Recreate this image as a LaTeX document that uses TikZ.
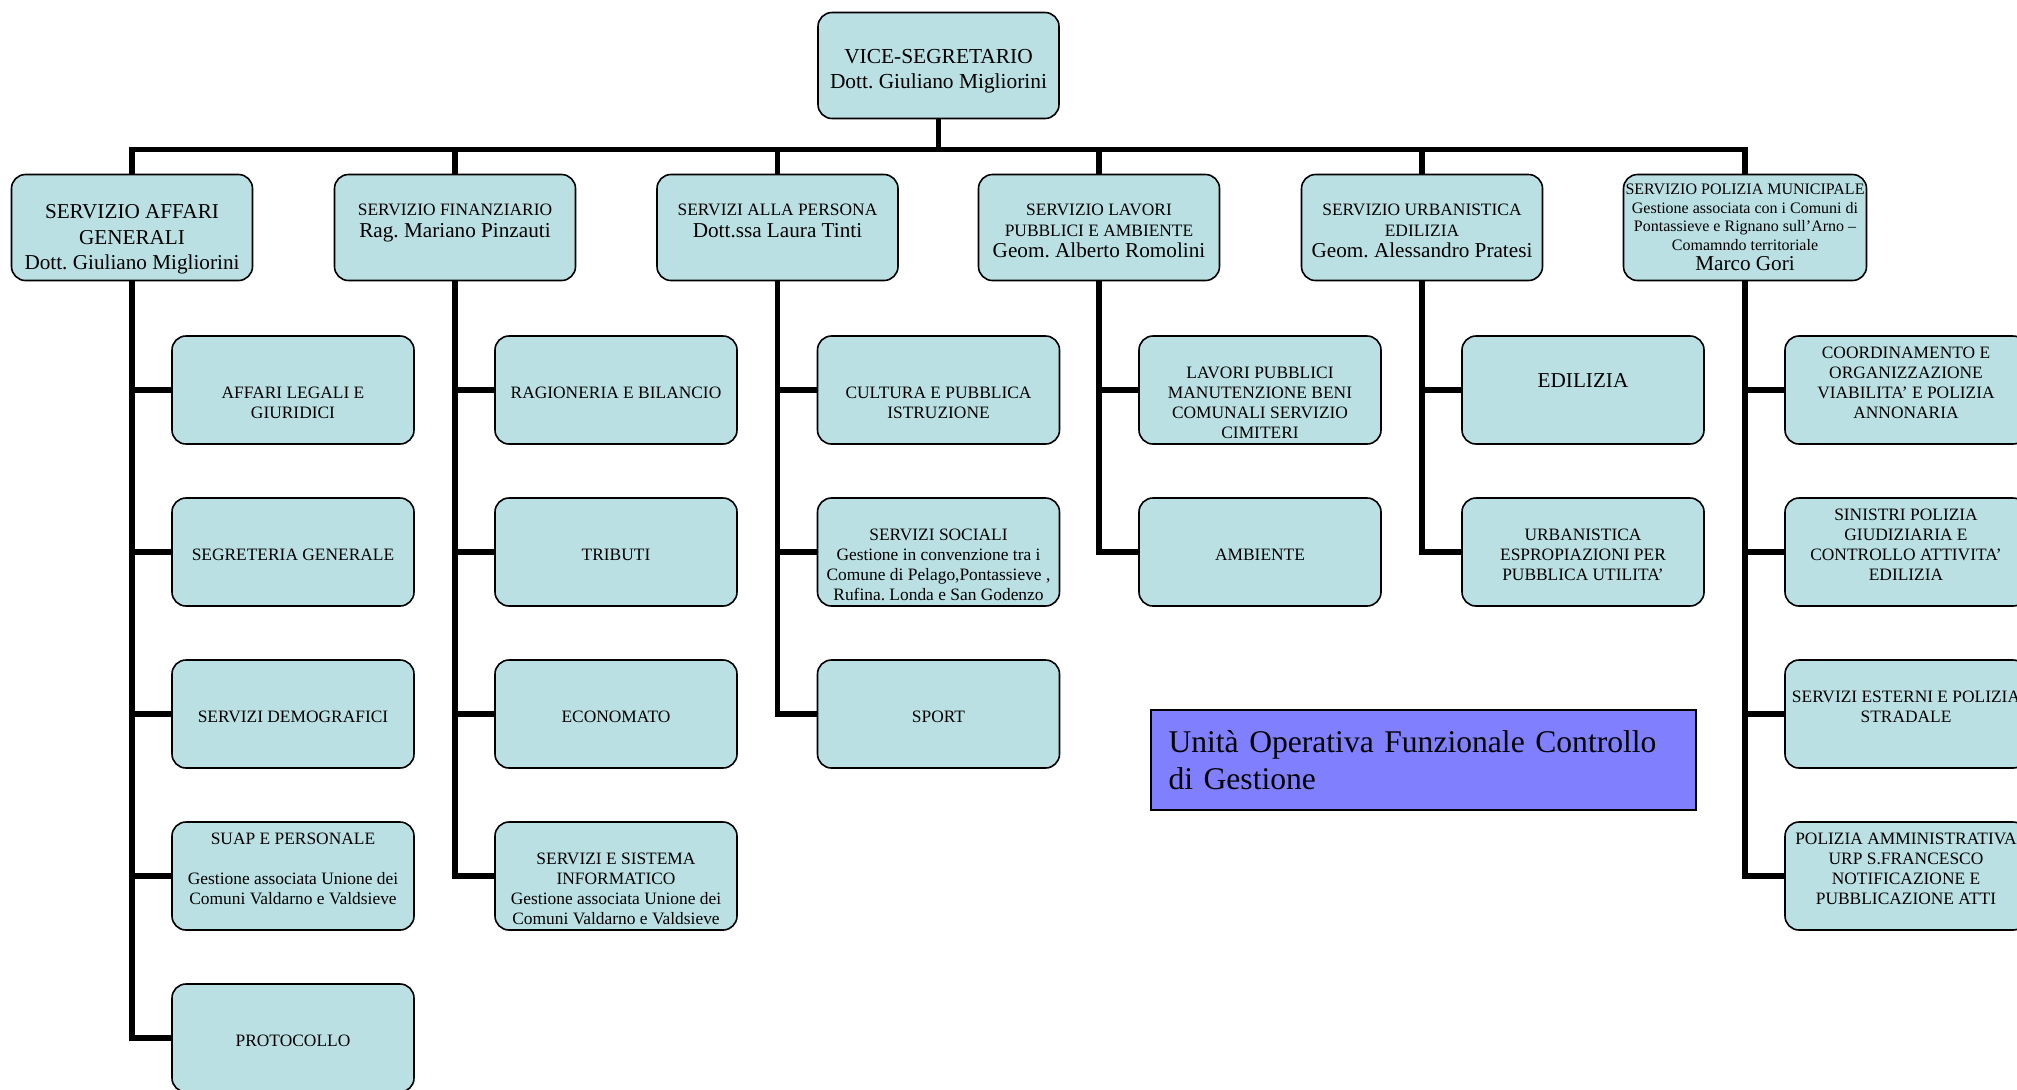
\documentclass[tikz,border=0pt]{standalone}
\usepackage{fontspec}
\setmainfont{Liberation Serif}
\definecolor{boxfill}{RGB}{187,224,227}
\definecolor{unitfill}{RGB}{128,128,255}
\newcommand{\bigline}[1]{{\fontsize{10.6}{12}\selectfont #1}}
\newcommand{\rowtop}[1][9pt]{\rule{0pt}{#1}}
\begin{document}
\frenchspacing
\begin{tikzpicture}[x=0.5pt,y=-0.5pt]
\tikzset{office/.style = {draw, rounded corners=7pt, fill=boxfill, line width=0.8pt, minimum width=121pt, minimum height=54pt, inner sep=1pt, align=center, font=\fontsize{8.7}{10}\selectfont},
  head/.style = {office, minimum width=120.5pt, minimum height=53pt, font=\fontsize{8.7}{11}\selectfont},
  link/.style = {line width=2.8pt}}
\clip (0,0) rectangle (2017,1089);
% vertice
\node[head,font=\fontsize{10.7}{12.5}\selectfont] (vs) at (938.5,65.5) {\rowtop[12.8pt]VICE-SEGRETARIO\\Dott. Giuliano Migliorini};
% servizi
\node[head,font=\fontsize{10.6}{12.9}\selectfont] (a) at (132,227.5) {\strut\\[-3pt]SERVIZIO AFFARI\\GENERALI\\Dott. Giuliano Migliorini};
\node[head] (b) at (455,227.5) {SERVIZIO FINANZIARIO\\\bigline{Rag. Mariano Pinzauti}\\[-8pt]\strut};
\node[head] (c) at (777.5,227.5) {SERVIZI ALLA PERSONA\\\bigline{Dott.ssa Laura Tinti}\\[-8pt]\strut};
\node[head,font=\fontsize{8.7}{10.5}\selectfont] (d) at (1099,227.5) {\rowtop SERVIZIO LAVORI\\PUBBLICI E AMBIENTE\\\bigline{Geom. Alberto Romolini}};
\node[head,font=\fontsize{8.7}{10.5}\selectfont] (e) at (1422,227.5) {\rowtop SERVIZIO URBANISTICA\\EDILIZIA\\\bigline{Geom. Alessandro Pratesi}};
\node[head,font=\fontsize{8}{9.3}\selectfont] (f) at (1745,227.5) {SERVIZIO POLIZIA MUNICIPALE\\Gestione associata con i Comuni di\\Pontassieve e Rignano sull’Arno –\\Comamndo territoriale\\[1pt]\bigline{Marco Gori}};
% affari generali
\node[office] (a1) at (293,390) {\rowtop\strut\\AFFARI LEGALI E\\GIURIDICI};
\node[office] (a2) at (293,552) {\rowtop SEGRETERIA GENERALE};
\node[office] (a3) at (293,714) {\rowtop SERVIZI DEMOGRAFICI};
\node[office] (a4) at (293,876) {\rowtop SUAP E PERSONALE\\[10pt]Gestione associata Unione dei\\Comuni Valdarno e Valdsieve\\[-2pt]\strut};
\node[office] (a5) at (293,1038) {\rowtop PROTOCOLLO};
% finanziario
\node[office] (b1) at (616,390) {\rowtop RAGIONERIA E BILANCIO};
\node[office] (b2) at (616,552) {\rowtop TRIBUTI};
\node[office] (b3) at (616,714) {\rowtop ECONOMATO};
\node[office] (b4) at (616,876) {\rowtop\strut\\SERVIZI E SISTEMA\\INFORMATICO\\Gestione associata Unione dei\\Comuni Valdarno e Valdsieve};
% persona
\node[office] (c1) at (938.5,390) {\rowtop\strut\\CULTURA E PUBBLICA\\ISTRUZIONE};
\node[office] (c2) at (938.5,552) {\rowtop\strut\\SERVIZI SOCIALI\\Gestione in convenzione tra i\\Comune di Pelago,Pontassieve ,\\Rufina. Londa e San Godenzo};
\node[office] (c3) at (938.5,714) {\rowtop SPORT};
% lavori pubblici
\node[office] (d1) at (1260,390) {\rowtop\strut\\LAVORI PUBBLICI\\MANUTENZIONE BENI\\COMUNALI SERVIZIO\\CIMITERI};
\node[office] (d2) at (1260,552) {\rowtop AMBIENTE};
% urbanistica
\node[office,font=\fontsize{10.6}{12}\selectfont] (e1) at (1583,390) {\rowtop[10pt]EDILIZIA\\[-3pt]\strut};
\node[office] (e2) at (1583,552) {\rowtop URBANISTICA\\ESPROPIAZIONI PER\\PUBBLICA UTILITA’};
% polizia municipale
\node[office] (f1) at (1906,390) {\rowtop COORDINAMENTO E\\ORGANIZZAZIONE\\VIABILITA’ E POLIZIA\\ANNONARIA\\[-2pt]\strut};
\node[office] (f2) at (1906,552) {\rowtop SINISTRI POLIZIA\\GIUDIZIARIA E\\CONTROLLO ATTIVITA’\\EDILIZIA\\[-2pt]\strut};
\node[office] (f3) at (1906,714) {\rowtop SERVIZI ESTERNI E POLIZIA\\STRADALE\\[-2pt]\strut};
\node[office] (f4) at (1906,876) {\rowtop POLIZIA AMMINISTRATIVA\\URP S.FRANCESCO\\NOTIFICAZIONE E\\PUBBLICAZIONE ATTI\\[-2pt]\strut};
% controllo di gestione
\node[draw, line width=1pt, fill=unitfill, anchor=north west, minimum width=272.5pt, minimum height=50pt, text width=255pt, inner xsep=8.75pt, align=left, font=\fontsize{15.8}{18.3}\selectfont] (cdg) at (1150,709) {Unità Operativa Funzionale Controllo\\di Gestione};
% collegamenti
\draw[link] (vs.south) -- ++(0,30) -| (a.north);
\draw[link] (vs.south) -- ++(0,30) -| (b.north);
\draw[link] (vs.south) -- ++(0,30) -| (c.north);
\draw[link] (vs.south) -- ++(0,30) -| (d.north);
\draw[link] (vs.south) -- ++(0,30) -| (e.north);
\draw[link] (vs.south) -- ++(0,30) -| (f.north);
\draw[link] (a.south) |- (a1.west);
\draw[link] (a.south) |- (a2.west);
\draw[link] (a.south) |- (a3.west);
\draw[link] (a.south) |- (a4.west);
\draw[link] (a.south) |- (a5.west);
\draw[link] (b.south) |- (b1.west);
\draw[link] (b.south) |- (b2.west);
\draw[link] (b.south) |- (b3.west);
\draw[link] (b.south) |- (b4.west);
\draw[link] (c.south) |- (c1.west);
\draw[link] (c.south) |- (c2.west);
\draw[link] (c.south) |- (c3.west);
\draw[link] (d.south) |- (d1.west);
\draw[link] (d.south) |- (d2.west);
\draw[link] (e.south) |- (e1.west);
\draw[link] (e.south) |- (e2.west);
\draw[link] (f.south) |- (f1.west);
\draw[link] (f.south) |- (f2.west);
\draw[link] (f.south) |- (f3.west);
\draw[link] (f.south) |- (f4.west);
\end{tikzpicture}
\end{document}
